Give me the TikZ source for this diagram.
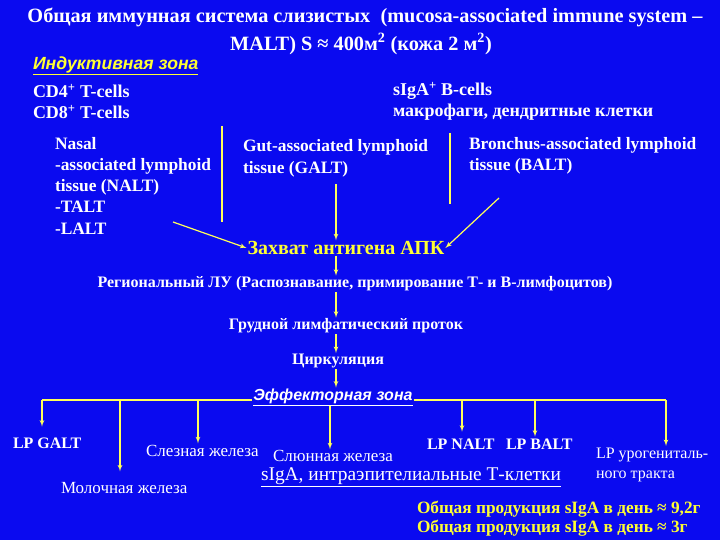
\documentclass[tikz,border=0pt]{standalone}
\usepackage{fontspec}
\setmainfont{Liberation Serif}
\newfontfamily\zonefont{Liberation Sans}
\usetikzlibrary{arrows, positioning, calc}
\definecolor{SlideBlue}{HTML}{0A0AF0}
\definecolor{LineYellow}{HTML}{FFFF5A}
\definecolor{TextYellow}{HTML}{FFFF33}

\begin{document}
\begin{tikzpicture}[x=1pt, y=-1pt, >=latex', every node/.style={inner sep=0pt, outer sep=1pt}]
    \tikzstyle{title} = [text=white, font=\fontsize{20.3}{22}\selectfont\bfseries]
    \tikzstyle{txt} = [text=white, font=\fontsize{16}{21}\selectfont\bfseries, anchor=west, align=left]
    \tikzstyle{plain} = [txt, font=\fontsize{17}{21}\selectfont]
    \tikzstyle{tissue} = [txt, anchor=north west, font=\fontsize{17.4}{21.3}\selectfont\bfseries]
    \tikzstyle{flow} = [text=white, font=\fontsize{16}{20}\selectfont\bfseries]
    \tikzstyle{zone} = [font=\zonefont\fontsize{16}{20}\selectfont\bfseries\itshape]
    \tikzstyle{line} = [draw, ->, line width=1.2pt, LineYellow]
    \tikzstyle{bar} = [draw, LineYellow, line width=2.8pt]

    \fill[SlideBlue] (0,0) rectangle (720,540);

    % header
    \node [title] (title) at (365,17) {Общая иммунная система слизистых~ (mucosa-associated immune system –};
    \node [title] (title2) at (361,44) {MALT) S ≈ 400м\textsuperscript{2} (кожа 2 м\textsuperscript{2})};

    % inductive zone
    \node [zone, font=\zonefont\fontsize{17.6}{20}\selectfont\bfseries\itshape, text=TextYellow, anchor=west] (induct) at (32,66) {\underline{Индуктивная зона}};
    \node [txt, font=\fontsize{18}{21}\selectfont\bfseries] (cd4) at (32,91) {CD4\textsuperscript{+} T-cells};
    \node [txt, font=\fontsize{18}{21}\selectfont\bfseries] (cd8) at (32,112) {CD8\textsuperscript{+} T-cells};
    \node [txt, font=\fontsize{18}{21}\selectfont\bfseries] (sigab) at (392,91) {sIgA\textsuperscript{+} B-cells};
    \node [txt, font=\fontsize{18}{21}\selectfont\bfseries] (macro) at (392,112) {макрофаги, дендритные клетки};

    \node [tissue] (nalt) at (54,136) {Nasal\\-associated lymphoid\\tissue (NALT)\\-TALT\\-LALT};
    \node [tissue, font=\fontsize{17.4}{22}\selectfont\bfseries] (galt) at (242,138) {Gut-associated lymphoid\\tissue (GALT)};
    \node [tissue] (balt) at (468,136) {Bronchus-associated lymphoid\\tissue (BALT)};

    \coordinate (bar1a) at (222,126);
    \coordinate (bar1b) at (222,222);
    \coordinate (bar2a) at (450,133);
    \coordinate (bar2b) at (450,204);
    \path [bar] (bar1a) -- (bar1b);
    \path [bar] (bar2a) -- (bar2b);

    % central chain
    \coordinate (spine) at (336,0);
    \node [flow, font=\fontsize{20}{22}\selectfont\bfseries, text=TextYellow] (capture) at (346,248) {Захват антигена АПК};
    \node [flow] (region) at (355,284) {Региональный ЛУ (Распознавание, примирование Т- и В-лимфоцитов)};
    \node [flow] (duct) at (346,326) {Грудной лимфатический проток};
    \node [flow] (circ) at (338,361) {Циркуляция};
    \node [zone, text=white] (effect) at (333,397) {\underline{Эффекторная зона}};

    \coordinate (naltout) at (173,222);
    \coordinate (galtout) at ($(galt.south)+(0,6)$);
    \coordinate (baltout) at (499,198);
    \path [line] (naltout) -- (capture.west);
    \path [line] (galtout -| spine) -- (capture.north -| spine);
    \path [line] (baltout) -- (capture.east);
    \path [line] (capture.south -| spine) -- (region.north -| spine);
    \path [line] (region.south -| spine) -- (duct.north -| spine);
    \path [line] (duct.south -| spine) -- (circ.north -| spine);
    \path [line] (circ.south -| spine) -- (effect.north -| spine);

    % effector zone
    \node [txt] (lpgalt) at (12,443) {LP GALT};
    \node [plain] (milk) at (60,488) {Молочная железа};
    \node [plain] (tear) at (145,451) {Слезная железа};
    \node [plain] (saliva) at (272,456) {Слюнная железа};
    \node [txt] (lpnalt) at (426,444) {LP NALT};
    \node [txt] (lpbalt) at (505,444) {LP BALT};
    \node [txt, font=\fontsize{16}{20}\selectfont, anchor=north west] (uro) at (595,447) {LP урогениталь-\\ного тракта};
    \node [plain, font=\fontsize{19.4}{21}\selectfont] (sigat) at (260,477) {\underline{sIgA, интраэпителиальные Т-клетки}};
    \node [txt, font=\fontsize{17.3}{21}\selectfont\bfseries, text=TextYellow] (prod1) at (416,509) {Общая продукция sIgA в день ≈ 9,2г};
    \node [txt, font=\fontsize{17.3}{21}\selectfont\bfseries, text=TextYellow] (prod2) at (416,528) {Общая продукция sIgA в день ≈ 3г};

    \coordinate (d1) at (42,400);
    \coordinate (d2) at (120,400);
    \coordinate (d3) at (198,400);
    \coordinate (d4) at (330,400);
    \coordinate (d5) at (462,400);
    \coordinate (d6) at (535,400);
    \coordinate (d7) at (666,400);
    \path [draw, line width=1.2pt, LineYellow] (d1) -- (effect.west |- d1);
    \path [draw, line width=1.2pt, LineYellow] (effect.east |- d7) -- (d7);
    \foreach \d/\t/\s in {d1/lpgalt/10pt, d2/milk/10pt, d3/tear/1pt, d5/lpnalt/6pt, d6/lpbalt/1pt, d7/uro/1pt}
        \path [line, shorten >=\s] (\d) -- (\d |- \t.north);
    \path [line] (effect.south -| d4) -- (saliva.north -| d4);
\end{tikzpicture}
\end{document}
